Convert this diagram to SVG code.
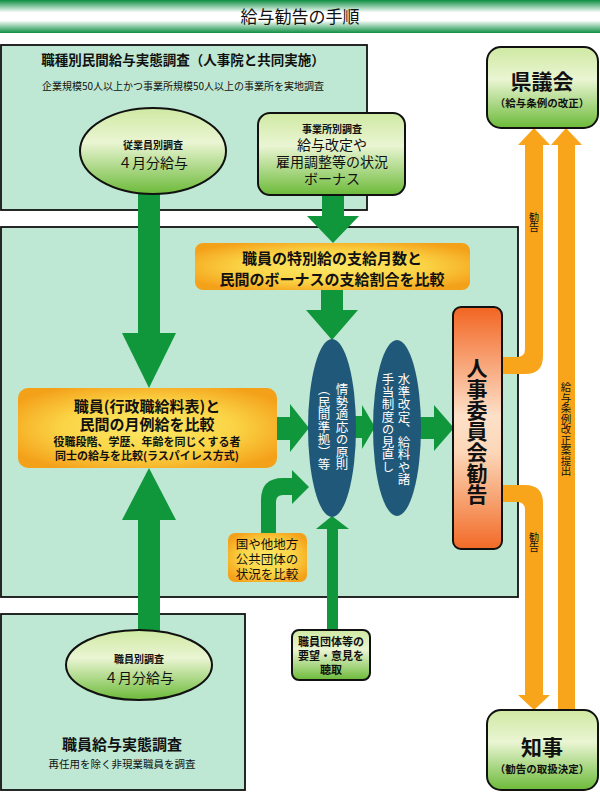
<svg xmlns="http://www.w3.org/2000/svg" width="600" height="793" viewBox="0 0 600 793">
<defs>
<linearGradient id="gTitle" x1="0" y1="0" x2="0" y2="1">
<stop offset="0" stop-color="#0e8f42"/><stop offset="0.38" stop-color="#ffffff"/><stop offset="0.62" stop-color="#ffffff"/><stop offset="1" stop-color="#0e8f42"/>
</linearGradient>
<linearGradient id="gGreen" x1="0" y1="0" x2="0" y2="1">
<stop offset="0" stop-color="#cfe9a2"/><stop offset="0.4" stop-color="#eaf5d3"/><stop offset="1" stop-color="#6cba39"/>
</linearGradient>
<radialGradient id="gOrange" cx="0.5" cy="0.5" r="0.6">
<stop offset="0" stop-color="#fde866"/><stop offset="0.55" stop-color="#fbd446"/><stop offset="1" stop-color="#f4a11a"/>
</radialGradient>
<linearGradient id="gRed" x1="0" y1="0" x2="0" y2="1">
<stop offset="0" stop-color="#f26522"/><stop offset="0.45" stop-color="#fde0c8"/><stop offset="0.6" stop-color="#fcd7b8"/><stop offset="1" stop-color="#f26a27"/>
</linearGradient>
</defs>
<style>
text{font-family:"Noto Sans CJK JP","Noto Sans CJK SC",sans-serif;fill:#111;text-anchor:middle}
.b{font-weight:bold}
.area{fill:#bee8d3;stroke:#111;stroke-width:1.8}
.gbox{fill:url(#gGreen);stroke:#111;stroke-width:2}
.obox{fill:url(#gOrange);stroke:none}
.blue{fill:#1f5878}
.ga{fill:#10973c}
.oa{fill:#f8a51b}
.v{writing-mode:vertical-rl;text-anchor:start}
.vw{writing-mode:vertical-rl;text-anchor:start;fill:#fff}
</style>

<!-- title -->
<g id="title">
<rect x="0" y="0" width="600" height="33" fill="url(#gTitle)"/>
<text x="300" y="23" font-size="17">給与勧告の手順</text>
</g>

<!-- areas -->
<g id="area-private">
<rect class="area" x="1" y="45" width="366" height="165"/>
<text class="b" x="183" y="65" font-size="13.5">職種別民間給与実態調査（人事院と共同実施）</text>
<text x="183" y="90" font-size="10">企業規模50人以上かつ事業所規模50人以上の事業所を実地調査</text>
</g>
<g id="area-main">
<rect class="area" x="1" y="227" width="517" height="370"/>
</g>
<g id="area-staff">
<rect class="area" x="1" y="614" width="244" height="176"/>
<text class="b" x="122" y="750" font-size="15">職員給与実態調査</text>
<text x="122" y="768" font-size="10.5">再任用を除く非現業職員を調査</text>
</g>

<!-- connectors -->
<g id="connectors">
<rect class="ga" x="138" y="190" width="22" height="144"/>
<polygon class="ga" points="122,333 176,333 149,388"/>
<rect class="ga" x="138" y="519" width="22" height="115"/>
<polygon class="ga" points="122,520 176,520 149,468"/>
<rect class="ga" x="322" y="194" width="22" height="23"/>
<polygon class="ga" points="307,216 359,216 333,243"/>
<rect class="ga" x="321" y="289" width="22" height="22"/>
<polygon class="ga" points="306,310 358,310 332,340"/>
<rect class="ga" x="276" y="417" width="15" height="23"/>
<polygon class="ga" points="290,404 290,452 309,428"/>
<rect class="ga" x="354" y="416" width="9" height="22"/>
<polygon class="ga" points="362,405 362,449 375,427"/>
<rect class="ga" x="419" y="417" width="16" height="22"/>
<polygon class="ga" points="434,405 434,451 454,428"/>
<path class="ga" d="M261,534 L261,500 Q261,478 283,478 L292,478 L292,470 L309,487 L292,504 L292,495 L283,495 Q276,495 276,502 L276,534 Z"/>
<rect class="ga" x="327" y="528" width="11" height="104"/>
<polygon class="ga" points="316,529 349,529 332,516"/>
<path class="oa" d="M500,357 L517,357 Q525,357 525,349 L525,145 L518,145 L534,128 L550,145 L543,145 L543,356 Q543,374 525,374 L500,374 Z"/>
<text class="v" x="534" y="212" font-size="10">勧告</text>
<rect class="oa" x="558" y="144" width="17" height="567"/>
<polygon class="oa" points="551,145 582,145 566,128"/>
<text class="v" x="566" y="382" font-size="10.5">給与条例改正案提出</text>
<path class="oa" d="M500,485 L525,485 Q543,485 543,503 L543,695 L550,695 L534,710 L518,695 L525,695 L525,510 Q525,502 517,502 L500,502 Z"/>
<text class="v" x="534" y="532" font-size="10">勧告</text>
</g>

<!-- nodes -->
<g id="employee-survey">
<ellipse class="gbox" cx="153" cy="151" rx="73" ry="43"/>
<text class="b" x="153" y="149" font-size="10">従業員別調査</text>
<text x="153" y="168" font-size="14">４月分給与</text>
</g>
<g id="office-survey">
<rect class="gbox" x="258" y="113" width="147" height="82" rx="12"/>
<text class="b" x="332" y="133" font-size="10">事業所別調査</text>
<text x="332" y="150" font-size="14">給与改定や</text>
<text x="332" y="167" font-size="14">雇用調整等の状況</text>
<text x="332" y="184" font-size="14">ボーナス</text>
</g>
<g id="bonus-compare">
<rect class="obox" x="195" y="243" width="275" height="47" rx="8"/>
<text class="b" x="332" y="264" font-size="15">職員の特別給の支給月数と</text>
<text class="b" x="332" y="285" font-size="15">民間のボーナスの支給割合を比較</text>
</g>
<g id="monthly-compare">
<rect class="obox" x="18" y="388" width="259" height="80" rx="10"/>
<text class="b" x="147" y="412" font-size="15">職員(行政職給料表)と</text>
<text class="b" x="147" y="430" font-size="15">民間の月例給を比較</text>
<text class="b" x="147" y="446" font-size="11">役職段階、学歴、年齢を同じくする者</text>
<text class="b" x="147" y="460" font-size="11">同士の給与を比較(ラスパイレス方式)</text>
</g>
<g id="principle">
<ellipse class="blue" cx="332" cy="428" rx="24" ry="89"/>
<text class="vw" x="342" y="383" font-size="12.5">情勢適応の原則</text>
<text class="vw" x="324" y="383" font-size="12.5">（民間準拠）等</text>
</g>
<g id="revision">
<ellipse class="blue" cx="397" cy="428" rx="24" ry="88"/>
<text class="vw" x="404" y="373" font-size="12.5">水準改定、給料や諸</text>
<text class="vw" x="388" y="373" font-size="12.5">手当制度の見直し</text>
</g>
<g id="recommendation">
<rect x="453" y="307" width="49" height="242" rx="8" fill="url(#gRed)" stroke="#111" stroke-width="2"/>
<text class="v b" x="477" y="358" font-size="21">人事委員会勧告</text>
</g>
<g id="other-govts">
<rect class="obox" x="228" y="533" width="79" height="49" rx="7"/>
<text x="267" y="549" font-size="12.5">国や他地方</text>
<text x="267" y="564" font-size="12.5">公共団体の</text>
<text x="267" y="579" font-size="12.5">状況を比較</text>
</g>
<g id="union-hearing">
<rect class="gbox" x="292" y="630" width="78" height="50" rx="7"/>
<text class="b" x="331" y="646" font-size="11">職員団体等の</text>
<text class="b" x="331" y="660" font-size="11">要望・意見を</text>
<text class="b" x="331" y="674" font-size="11">聴取</text>
</g>
<g id="staff-survey">
<ellipse class="gbox" cx="139" cy="665" rx="73" ry="35"/>
<text class="b" x="139" y="663" font-size="10">職員別調査</text>
<text x="139" y="683" font-size="14">４月分給与</text>
</g>
<g id="assembly">
<rect class="gbox" x="487" y="47" width="111" height="81" rx="14"/>
<text class="b" x="542" y="89" font-size="21">県議会</text>
<text class="b" x="542" y="107" font-size="10.5">（給与条例の改正）</text>
</g>
<g id="governor">
<rect class="gbox" x="487" y="710" width="111" height="80" rx="14"/>
<text class="b" x="542" y="755" font-size="21">知事</text>
<text class="b" x="542" y="773" font-size="10.5">（勧告の取扱決定）</text>
</g>
</svg>
